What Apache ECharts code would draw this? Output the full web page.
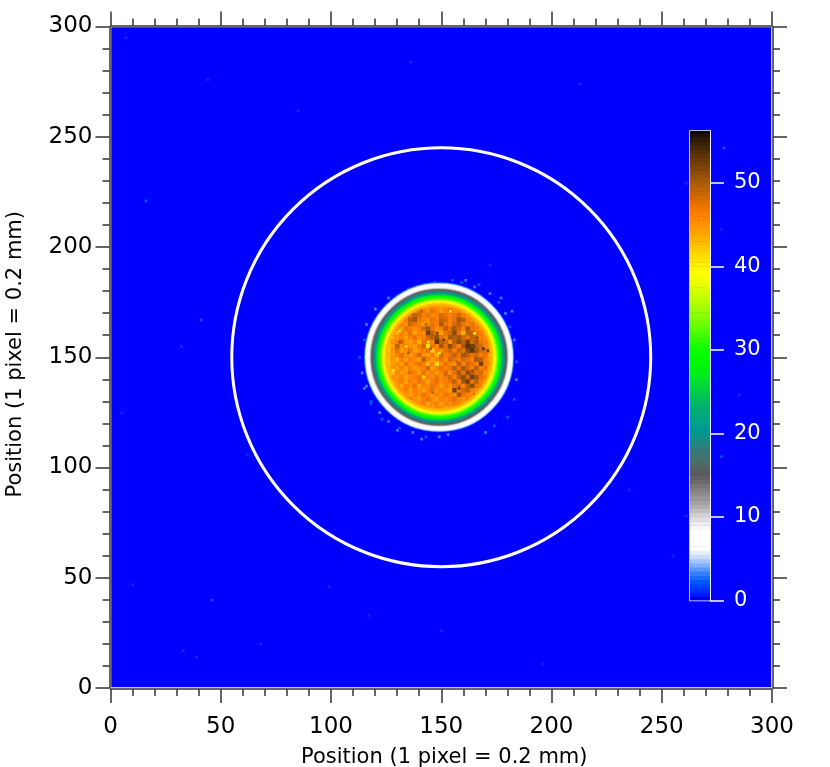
<!DOCTYPE html>
<html>
<head>
<meta charset="utf-8">
<title>Beam profile</title>
<style>
  html, body { margin: 0; padding: 0; background: #fff; }
  #chart { width: 830px; height: 767px; }
</style>
<script src="https://cdn.jsdelivr.net/npm/echarts@6/dist/echarts.min.js"></script>
</head>
<body>
<div id="chart"></div>
<script>
// colour for each count 0..56
var paletteColors = [
  '#0000f5', '#0030ff', '#0058ff', '#3080ff', '#80b0ff', '#c8dcff', '#ffffff', '#ffffff',
  '#ffffff', '#eeeeee', '#d0d0d0', '#aeaeae', '#989898', '#828282', '#6a6a6a', '#5a5a5a',
  '#4e6a66', '#427470', '#307c78', '#1a8a84', '#00978f', '#00a08a', '#00a87c', '#00b46c',
  '#00c058', '#00cf40', '#00e02c', '#00f018', '#00f808', '#00ff00', '#10ff00', '#30ff00',
  '#50ff00', '#70ff00', '#8cff00', '#a8ff00', '#c0ff00', '#d8ff00', '#f0ff00', '#ffff00',
  '#fff000', '#ffdc00', '#ffc800', '#ffb400', '#ffa000', '#ff8e00', '#ff8000', '#ec7400',
  '#d66a00', '#be6204', '#a4580a', '#8c4c0a', '#744008', '#5c3408', '#442806', '#2c1a04',
  '#0a0500'
]
var barLevels = [
  0, 0.5, 1, 1.5, 2, 2.5, 3, 3.5, 4, 4.5, 5, 5.5, 6, 6.5, 7, 7.5, 8, 8.5, 9, 9.5, 10, 10.5, 11, 11.5, 12, 12.5, 13, 13.5,
  14, 14.5, 15, 15.5, 16, 16.5, 17, 17.5, 18, 18.5, 19, 19.5, 20, 20.5, 21, 21.5, 22, 22.5, 23, 23.5, 24, 24.5, 25, 25.5,
  26, 26.5, 27, 27.5, 28, 28.5, 29, 29.5, 30, 30.5, 31, 31.5, 32, 32.5, 33, 33.5, 34, 34.5, 35, 35.5, 36, 36.5, 37, 37.5,
  38, 38.5, 39, 39.5, 40, 40.5, 41, 41.5, 42, 42.5, 43, 43.5, 44, 44.5, 45, 45.5, 46, 46.5, 47, 47.5, 48, 48.5, 49, 49.5,
  50, 50.5, 51, 51.5, 52, 52.5, 53, 53.5, 54, 54.5, 55, 55.5, 56
]
var barTickValues = [0, 10, 20, 30, 40, 50]

// inside of the spot, 2 pixel cells, top row first (y = 173, 171 ... 127), rows centred on x = 149
var spotRows = [
  [45, 44, 46, 45, 44, 45, 46, 45],
  [45, 47, 46, 45, 47, 46, 44, 46, 47, 45, 46, 44],
  [45, 47, 49, 48, 46, 47, 45, 46, 48, 47, 46, 47, 48, 46, 45, 44],
  [44, 46, 49, 50, 47, 46, 45, 47, 46, 49, 48, 46, 47, 50, 48, 46, 45, 44],
  [44, 46, 45, 48, 47, 46, 44, 45, 47, 46, 50, 47, 46, 48, 49, 47, 46, 47, 45, 44],
  [43, 45, 44, 47, 46, 45, 46, 48, 50, 47, 45, 46, 49, 47, 50, 48, 46, 50, 47, 46, 45, 44],
  [44, 43, 46, 45, 47, 44, 46, 45, 52, 49, 46, 44, 47, 48, 51, 47, 43, 49, 49, 47, 46, 44],
  [42, 44, 45, 46, 44, 46, 47, 45, 46, 48, 49, 51, 47, 46, 50, 49, 50, 48, 47, 49, 47, 46, 45, 43],
  [43, 45, 46, 48, 45, 44, 46, 43, 47, 47, 46, 53, 49, 48, 45, 49, 51, 49, 52, 48, 50, 47, 46, 44],
  [42, 44, 49, 45, 46, 45, 44, 46, 48, 41, 47, 46, 50, 47, 51, 48, 46, 50, 53, 52, 49, 48, 46, 44],
  [43, 45, 47, 44, 45, 47, 44, 45, 46, 47, 42, 46, 45, 47, 48, 46, 49, 47, 51, 53, 50, 48, 47, 45],
  [43, 44, 46, 47, 45, 44, 46, 48, 45, 44, 46, 43, 48, 46, 47, 49, 47, 50, 49, 47, 48, 46, 47, 44],
  [42, 45, 43, 46, 44, 46, 45, 44, 49, 46, 44, 46, 47, 45, 48, 47, 46, 48, 47, 46, 50, 49, 46, 44],
  [42, 44, 45, 44, 47, 45, 46, 47, 46, 43, 46, 41, 45, 47, 46, 45, 49, 46, 48, 47, 46, 52, 46, 45],
  [43, 45, 44, 46, 44, 46, 44, 45, 46, 48, 44, 46, 47, 46, 47, 49, 47, 50, 48, 46, 49, 46, 47, 44],
  [44, 43, 46, 44, 45, 47, 46, 44, 47, 45, 46, 44, 46, 48, 45, 47, 50, 47, 51, 49, 47, 48, 45, 44],
  [43, 45, 44, 46, 44, 45, 46, 47, 44, 46, 45, 47, 45, 46, 48, 46, 49, 51, 48, 52, 50, 47, 46, 43],
  [44, 45, 46, 44, 46, 45, 47, 46, 44, 46, 47, 45, 46, 47, 49, 46, 50, 52, 47, 49, 46, 44],
  [43, 45, 44, 46, 45, 47, 44, 46, 45, 47, 46, 44, 46, 45, 47, 48, 46, 49, 51, 47, 46, 43],
  [44, 45, 46, 44, 46, 45, 44, 46, 47, 45, 46, 45, 44, 52, 46, 48, 49, 46, 45, 44],
  [43, 45, 44, 46, 45, 47, 46, 44, 46, 45, 47, 46, 45, 50, 47, 46, 45, 44],
  [44, 46, 45, 44, 46, 47, 45, 44, 46, 45, 46, 47, 46, 45, 46, 44],
  [44, 45, 46, 44, 45, 46, 44, 46, 45, 46, 45, 44],
  [44, 45, 44, 46, 45, 44, 45, 44]
]
// single dark or yellow pixels that stand out inside the spot
var grainX = [131, 137, 141, 148, 151, 145, 165, 169, 171, 160, 158, 165, 164, 152, 135, 166, 161, 171, 149, 154, 165, 134, 144, 128, 126, 127, 131, 139, 128, 136, 160, 142, 148, 124, 155, 143, 157, 146]
var grainY = [157, 170, 171, 161, 158, 154, 155, 154, 161, 167, 136, 133, 144, 142, 152, 159, 152, 153, 152, 171, 161, 155, 157, 144, 153, 159, 162, 126, 136, 130, 128, 141, 147, 149, 163, 165, 148, 134]
var grainValue = [50, 49, 49, 52, 52, 50, 52, 53, 51, 50, 52, 52, 51, 49, 49, 51, 50, 52, 40, 40, 40, 41, 40, 40, 41, 41, 41, 41, 41, 40, 41, 41, 41, 40, 50, 49, 49, 49]

// rim of the spot, radius in pixels and count there
var rimRadius = [33.6, 33.2, 32.8, 32.3, 31.8, 31.3, 30.9, 30.5, 30.1, 29.7, 29.2, 28.7, 28.2, 27.7, 27.2, 26.7, 26.2, 25.7, 25.2, 24.7, 24.2, 23.7]
var rimValue = [3, 5, 7, 8, 8, 9, 11, 14, 15, 18, 20, 22, 25, 28, 29, 31, 33, 36, 38, 40, 42, 43]

// fuzzy pixels just outside the rim
var haloX = [113, 114, 115, 115, 116, 118, 120, 123, 126, 130, 135, 141, 147, 153, 159, 165, 170, 174, 177, 180, 182, 183, 184, 184, 183, 181, 179, 176, 172, 167, 161, 155, 149, 143, 137, 131, 126, 122, 118, 116]
var haloY = [150, 143, 158, 136, 165, 129, 172, 122, 177, 117, 181, 113, 184, 115, 184, 182, 116, 119, 177, 123, 171, 131, 140, 148, 158, 164, 170, 175, 179, 183, 185, 185, 114, 114, 116, 118, 121, 125, 130, 137]
var haloValue = [2, 3, 2, 3, 3, 2, 3, 2, 3, 3, 2, 3, 2, 3, 2, 3, 3, 2, 3, 2, 3, 2, 3, 2, 3, 2, 3, 2, 3, 2, 3, 2, 3, 2, 3, 2, 3, 3, 2, 3]

// single bright pixels scattered over the detector
var speckX = [16, 136, 41, 278, 261, 277, 277, 261, 46, 33, 39, 235, 5, 255, 117, 85, 32, 68, 10, 196, 44, 7, 285, 150, 213, 172, 99, 62]
var speckY = [221, 284, 167, 245, 229, 208, 105, 78, 40, 17, 14, 90, 125, 60, 33, 262, 155, 20, 47, 11, 276, 295, 133, 26, 274, 192, 46, 106]
var speckValue = [2, 1, 2, 2, 1, 1, 2, 1, 2, 1, 1, 1, 1, 1, 1, 1, 1, 1, 1, 1, 1, 1, 1, 1, 1, 1, 1, 1]

var spotCenter = [149, 150]
var apertureCenter = [150, 150]
var apertureRadius = [95]
var positionTicks = 50
var barStep = 0.5

var axisColor = '#333'
var fontName = '"DejaVu Sans", sans-serif'
var titleText = 'Position (1 pixel = 0.2 mm)'

// [x, y, count, cell size]
var cellData = []
speckX.forEach(function (x, i) {
  cellData.push([x, speckY[i], speckValue[i], 1])
})
haloX.forEach(function (x, i) {
  cellData.push([x, haloY[i], haloValue[i], 1])
})
spotRows.forEach(function (row, r) {
  row.forEach(function (v, c) {
    cellData.push([spotCenter[0] + (c - row.length / 2 + 0.5) * 2, 173 - r * 2, v, 2])
  })
})
grainX.forEach(function (x, i) {
  cellData.push([x, grainY[i], grainValue[i], 1])
})
// [x, y, count, radius]
var rimData = rimRadius.map(function (radius, i) {
  return [spotCenter[0], spotCenter[1], rimValue[i], radius]
})
var barData = barLevels.map(function (level) {
  return [0, level, level]
})

function renderCell (params, api) {
  var size = api.value(3)
  var start = api.coord([api.value(0) - size / 2, api.value(1) + size / 2])
  var dim = api.size([size, size])
  return {
    type: 'rect',
    shape: { x: start[0], y: start[1], width: dim[0] + 0.5, height: dim[1] + 0.5 },
    style: { fill: api.visual('color') }
  }
}
function renderRim (params, api) {
  var center = api.coord([api.value(0), api.value(1)])
  return {
    type: 'circle',
    shape: { cx: center[0], cy: center[1], r: api.size([api.value(3), 0])[0] },
    style: { fill: 'none', stroke: api.visual('color'), lineWidth: 1.8 }
  }
}
function renderAperture (params, api) {
  var center = api.coord([api.value(0), api.value(1)])
  return {
    type: 'circle',
    shape: { cx: center[0], cy: center[1], r: api.size([api.value(2), 0])[0] },
    style: { fill: 'none', stroke: '#fff', lineWidth: 3 }
  }
}
function renderBar (params, api) {
  var start = api.coord([0, api.value(1) + barStep])
  var end = api.coord([1, api.value(1)])
  return {
    type: 'rect',
    shape: { x: start[0], y: start[1], width: end[0] - start[0], height: end[1] - start[1] + 0.5 },
    style: { fill: api.visual('color') }
  }
}

function positionAxis (position, showLabels, nameGap) {
  var axis = {
    type: 'value',
    gridIndex: 0,
    position: position,
    offset: 1,
    min: 0,
    max: 300,
    interval: positionTicks,
    splitLine: { show: false },
    axisLine: { show: true, onZero: false, lineStyle: { color: axisColor, width: 1.5 } },
    axisTick: { show: true, inside: false, length: 14, lineStyle: { color: axisColor, width: 1.5 } },
    minorTick: { show: true, splitNumber: 5, length: 7, lineStyle: { color: axisColor, width: 1.5 } },
    axisLabel: { show: showLabels, color: '#000', fontFamily: fontName, fontSize: 23, margin: position === 'left' ? 17 : 27 }
  }
  if (showLabels) {
    axis.name = titleText
    axis.nameLocation = 'middle'
    axis.nameGap = nameGap
    axis.nameTextStyle = { color: '#000', fontFamily: fontName, fontSize: 21, padding: [0, 0, 0, 6] }
  }
  return axis
}

var myChart = echarts.init(document.getElementById('chart'), null, { renderer: 'canvas' })
var option = {
  animation: false,
  backgroundColor: '#fff',
  grid: [
    { left: 110.5, top: 26.5, width: 661.5, height: 661.5, show: true, backgroundColor: '#0000ff', borderColor: '#fff', borderWidth: 1.5, containLabel: false, outerBoundsMode: 'none' },
    { left: 690, top: 131, width: 20, height: 469.5, show: true, backgroundColor: 'transparent', borderColor: '#fff', borderWidth: 1.5, containLabel: false, outerBoundsMode: 'none' }
  ],
  xAxis: [
    positionAxis('bottom', true, 58),
    positionAxis('top', false),
    { type: 'value', gridIndex: 1, min: 0, max: 1, show: false }
  ],
  yAxis: [
    positionAxis('left', true, 83),
    positionAxis('right', false),
    {
      type: 'value',
      gridIndex: 1,
      position: 'right',
      min: 0,
      max: 56.2,
      splitLine: { show: false },
      axisLine: { show: true, onZero: false, lineStyle: { color: '#fff', width: 1.5 } },
      axisTick: { show: true, inside: false, length: 14, customValues: barTickValues, lineStyle: { color: '#fff', width: 1.5 } },
      minorTick: { show: false },
      axisLabel: { color: '#fff', fontFamily: fontName, fontSize: 21, margin: 24, customValues: barTickValues }
    }
  ],
  visualMap: {
    show: false,
    type: 'continuous',
    min: 0,
    max: 56,
    dimension: 2,
    seriesIndex: [0, 1, 3],
    inRange: { color: paletteColors }
  },
  series: [
    { type: 'custom', xAxisIndex: 0, yAxisIndex: 0, renderItem: renderCell, data: cellData, silent: true },
    { type: 'custom', xAxisIndex: 0, yAxisIndex: 0, renderItem: renderRim, data: rimData, silent: true },
    { type: 'custom', xAxisIndex: 0, yAxisIndex: 0, renderItem: renderAperture, data: [[apertureCenter[0], apertureCenter[1], apertureRadius[0]]], silent: true },
    { type: 'custom', xAxisIndex: 2, yAxisIndex: 2, renderItem: renderBar, data: barData, silent: true, clip: true, z: 3 }
  ]
}
myChart.setOption(option)
</script>
</body>
</html>
